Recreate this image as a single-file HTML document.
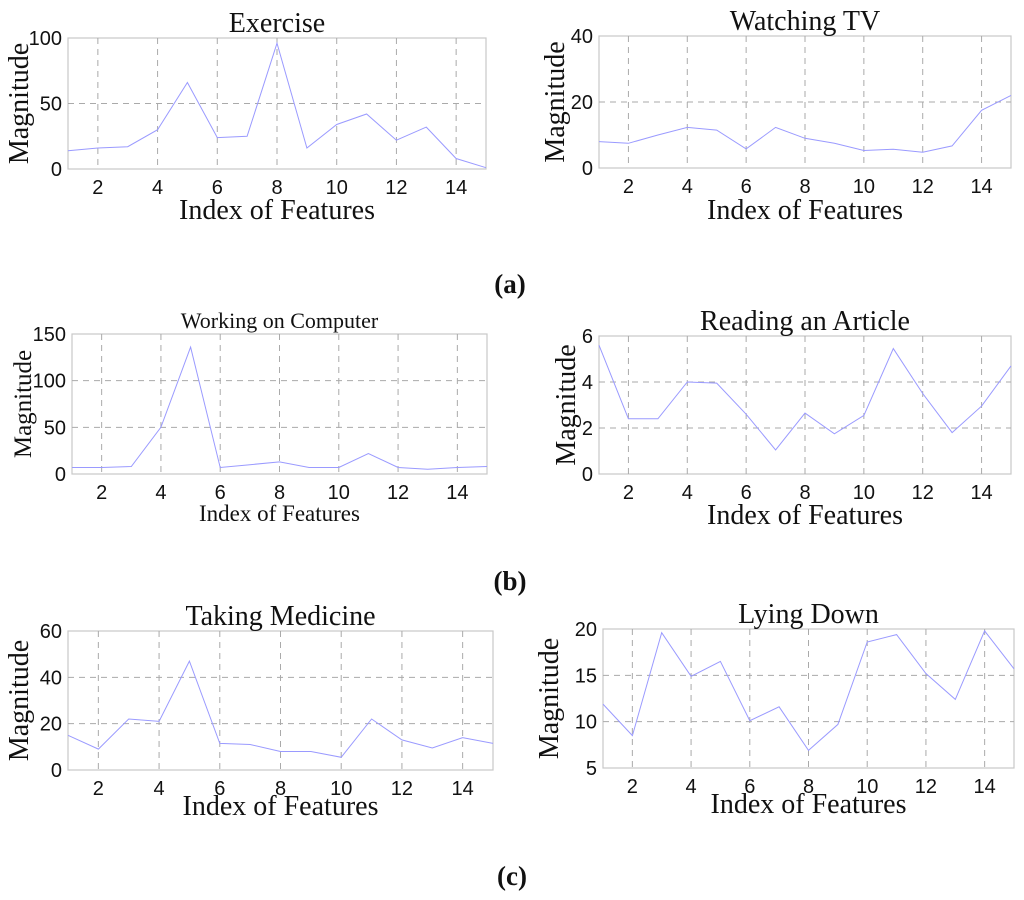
<!DOCTYPE html>
<html><head><meta charset="utf-8"><style>
body{margin:0;background:#fff;}
svg{display:block;}
.tick{font-family:"Liberation Sans",sans-serif;font-size:20px;fill:#111;}
.ser{font-family:"Liberation Serif",serif;fill:#111;}
</style></head><body>
<svg id="fig" width="1024" height="900" viewBox="0 0 1024 900" xmlns="http://www.w3.org/2000/svg">
<text class="ser" x="510" y="293" font-size="27" font-weight="bold" text-anchor="middle">(a)</text>
<text class="ser" x="510" y="590" font-size="27" font-weight="bold" text-anchor="middle">(b)</text>
<text class="ser" x="512" y="885" font-size="27" font-weight="bold" text-anchor="middle">(c)</text>
</svg>
<script>
const xCategories=[1,2,3,4,5,6,7,8,9,10,11,12,13,14,15];
const xTickLabels=[2,4,6,8,10,12,14];
const exerciseValues=[14,16,17,30,66,24,25,96,16,34,42,22,32,8,1];
const tvValues=[8,7.5,10,12.3,11.5,5.8,12.3,9,7.5,5.3,5.7,4.8,6.7,17.5,22];
const computerValues=[7,7,8,50,136,7,10,13,7,7,22,7,5,7,8];
const readingValues=[5.6,2.4,2.4,4.0,3.95,2.6,1.05,2.65,1.75,2.55,5.45,3.5,1.8,2.95,4.7];
const medicineValues=[15,9,22,21,47,11.5,11,8,8,5.5,22,13,9.5,14,11.5];
const lyingValues=[11.9,8.5,19.6,14.9,16.5,10.1,11.6,6.9,9.7,18.6,19.4,15.2,12.4,19.8,15.7];
const exerciseTicks=[0,50,100];
const tvTicks=[0,20,40];
const computerTicks=[0,50,100,150];
const readingTicks=[0,2,4,6];
const medicineTicks=[0,20,40,60];
const lyingTicks=[5,10,15,20];

const NS="http://www.w3.org/2000/svg";
const svg=document.getElementById('fig');
function mk(tag,attrs,parent){const e=document.createElementNS(NS,tag);for(const k in attrs)e.setAttribute(k,attrs[k]);(parent||svg).appendChild(e);return e;}

function chart(key,title,vals,ticks,box,opt){
  const g=mk('g',{});
  
  
  const [L,T,R,B]=box;
  const ymin=ticks[0],ymax=ticks[ticks.length-1];
  const sx=v=>L+(v-1)/(14)*(R-L);
  const sy=v=>B-(v-ymin)/(ymax-ymin)*(B-T);
  const frame=mk('rect',{x:L,y:T,width:R-L,height:B-T,fill:'none',stroke:'#c8c8c8','stroke-width':1.2},g);
  
  
  xTickLabels.forEach(t=>{
    const l=mk('line',{x1:sx(t),x2:sx(t),y1:T,y2:B,stroke:'#aaa','stroke-dasharray':'6,5','stroke-width':1},g);
    
    
    const tx=mk('text',{x:sx(t),y:B+25,'text-anchor':'middle',class:'tick'},g);
    tx.textContent=t;
    
    
  });
  ticks.forEach((t,i)=>{
    if(i>0&&i<ticks.length-1){
      const l=mk('line',{x1:L,x2:R,y1:sy(t),y2:sy(t),stroke:'#aaa','stroke-dasharray':'6,5','stroke-width':1},g);
      
      
    }
    const tx=mk('text',{x:L-6,y:sy(t)+7,'text-anchor':'end',class:'tick'},g);
    tx.textContent=t;
    
    
  });
  const pts=vals.map((v,i)=>sx(xCategories[i]).toFixed(1)+','+sy(v).toFixed(1)).join(' ');
  const pl=mk('polyline',{points:pts,fill:'none',stroke:'#9a9aff','stroke-width':1},g);
  
  
  const tt=mk('text',{x:(L+R)/2,y:T-6,'text-anchor':'middle',class:'ser','font-size':opt.tfs||28},g);
  tt.textContent=title;
  
  
  const xl=mk('text',{x:(L+R)/2,y:B+opt.xly,'text-anchor':'middle',class:'ser','font-size':opt.xfs||28},g);
  xl.textContent='Index of Features';
  
  
  const yc=(T+B)/2;
  const yl=mk('text',{x:opt.ylx,y:yc,'text-anchor':'middle',class:'ser','font-size':opt.yfs||28,transform:'rotate(-90 '+opt.ylx+' '+yc+')'},g);
  yl.textContent='Magnitude';
  
  
}
chart('exercise','Exercise',exerciseValues,exerciseTicks,[68,38,486,169],{xly:50,ylx:28});
chart('watching-tv','Watching TV',tvValues,tvTicks,[599,36,1011,168],{xly:51,ylx:564});
chart('working-on-computer','Working on Computer',computerValues,computerTicks,[72,334,487,474],{xly:47,ylx:31,tfs:22,xfs:23,yfs:25});
chart('reading-an-article','Reading an Article',readingValues,readingTicks,[599,336,1011,474],{xly:50,ylx:575});
chart('taking-medicine','Taking Medicine',medicineValues,medicineTicks,[68,631,493,770],{xly:45,ylx:28});
chart('lying-down','Lying Down',lyingValues,lyingTicks,[603,629,1014,768],{xly:45,ylx:558});
</script>
</body></html>
